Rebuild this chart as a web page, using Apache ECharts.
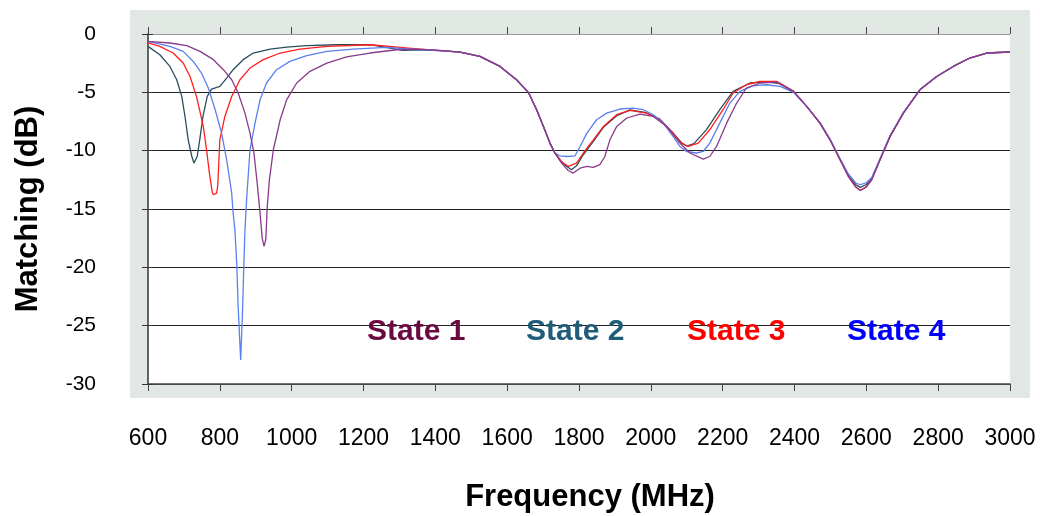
<!DOCTYPE html>
<html>
<head>
<meta charset="utf-8">
<script src="https://cdn.jsdelivr.net/npm/echarts@6/dist/echarts.min.js"></script>
<style>
html,body{margin:0;padding:0;background:#fff;}
#chart{width:1040px;height:516px;}
</style>
</head>
<body>
<div id="chart"></div>
<script>
// ---- data (frequency in MHz, matching in dB) ----
const seriesNames = ['State 1', 'State 2', 'State 3', 'State 4'];
const xTicks = [600, 800, 1000, 1200, 1400, 1600, 1800, 2000, 2200, 2400, 2600, 2800, 3000];
const yTicks = [0, -5, -10, -15, -20, -25, -30];

const state1Freq = [600,661,708,745,782,810,833,851,870,884,895,904,912,918,923,928,932,938,949,968,986,1014,1051,1098,1153,1218,1292,1350,1413,1469,1524,1580,1626,1659,1682,1701,1719,1733,1750,1770,1784,1803,1822,1840,1858,1872,1886,1905,1933,1970,2007,2044,2081,2109,2146,2164,2183,2211,2239,2266,2304,2350,2397,2434,2471,2499,2527,2550,2570,2583,2600,2615,2638,2666,2703,2749,2796,2842,2888,2935,3000];
const state1Db   = [-0.63,-0.77,-1.0,-1.49,-2.2,-3.06,-3.92,-5.06,-6.78,-8.49,-10.2,-12.78,-15.35,-17.5,-18.2,-17.6,-14.8,-12.5,-9.92,-7.35,-5.64,-4.2,-3.2,-2.49,-1.97,-1.63,-1.35,-1.3,-1.4,-1.55,-1.92,-2.78,-3.92,-5.0,-6.49,-7.92,-9.35,-10.2,-11.0,-11.7,-11.92,-11.5,-11.35,-11.44,-11.2,-10.5,-9.07,-7.92,-7.2,-6.86,-7.07,-7.92,-9.35,-10.2,-10.72,-10.5,-9.64,-7.64,-5.92,-4.63,-4.2,-4.12,-4.92,-6.2,-7.64,-9.07,-10.78,-12.21,-13.1,-13.41,-13.1,-12.5,-10.78,-8.78,-6.78,-4.78,-3.64,-2.78,-2.06,-1.63,-1.55];

const state2Freq = [600,633,661,680,694,703,712,722,728,737,744,753,765,777,800,819,837,865,893,940,986,1042,1125,1218,1310,1350,1413,1469,1524,1580,1626,1659,1682,1701,1719,1733,1755,1779,1793,1812,1840,1868,1905,1942,1988,2025,2062,2085,2100,2120,2155,2192,2229,2276,2320,2360,2397,2434,2471,2499,2527,2550,2570,2583,2600,2615,2638,2666,2703,2749,2796,2842,2888,2935,3000];
const state2Db   = [-1.06,-1.78,-2.78,-3.92,-5.35,-7.07,-9.07,-10.5,-11.06,-10.5,-9.07,-7.07,-5.35,-4.72,-4.49,-3.78,-3.06,-2.2,-1.63,-1.29,-1.12,-1.0,-0.92,-0.92,-1.4,-1.35,-1.43,-1.55,-1.92,-2.78,-3.92,-5.0,-6.49,-7.92,-9.35,-10.2,-11.1,-11.64,-11.3,-10.35,-9.2,-8.0,-7.0,-6.5,-6.75,-7.3,-8.5,-9.3,-9.6,-9.4,-8.2,-6.49,-4.92,-4.2,-4.1,-4.25,-4.92,-6.2,-7.64,-9.07,-10.78,-12.1,-12.9,-13.15,-12.9,-12.4,-10.78,-8.78,-6.78,-4.78,-3.64,-2.78,-2.06,-1.63,-1.52];

const state3Freq = [600,633,670,698,717,735,754,763,771,779,782,791,794,800,814,833,856,884,921,968,1023,1098,1218,1357,1413,1469,1524,1580,1626,1659,1682,1701,1719,1733,1750,1770,1793,1812,1840,1868,1905,1942,1988,2025,2062,2085,2104,2132,2164,2201,2229,2266,2304,2350,2397,2434,2471,2499,2527,2550,2570,2583,2600,2615,2638,2666,2703,2749,2796,2842,2888,2935,3000];
const state3Db   = [-0.77,-1.06,-1.63,-2.49,-3.64,-5.35,-7.92,-9.92,-11.92,-13.58,-13.78,-13.64,-13.07,-9.07,-7.07,-5.35,-3.92,-2.92,-2.2,-1.63,-1.29,-1.06,-0.92,-1.29,-1.43,-1.55,-1.92,-2.78,-3.92,-5.0,-6.49,-7.92,-9.35,-10.2,-10.9,-11.35,-11.06,-10.2,-9.07,-7.92,-6.92,-6.55,-6.78,-7.35,-8.49,-9.35,-9.64,-9.35,-8.21,-6.49,-5.06,-4.35,-4.06,-4.06,-4.9,-6.2,-7.64,-9.07,-10.78,-12.21,-13.1,-13.41,-13.1,-12.5,-10.78,-8.78,-6.78,-4.78,-3.64,-2.78,-2.06,-1.63,-1.55];

const state4Freq = [600,661,698,726,749,768,787,805,819,833,837,842,847,851,858,863,867,870,875,877,884,898,912,930,958,995,1042,1098,1171,1264,1357,1413,1469,1524,1580,1626,1659,1682,1701,1719,1733,1747,1766,1789,1803,1822,1849,1877,1914,1951,1979,2007,2034,2062,2081,2100,2127,2146,2164,2192,2220,2248,2285,2322,2360,2397,2434,2471,2499,2527,2550,2570,2583,2600,2615,2638,2666,2703,2749,2796,2842,2888,2935,3000];
const state4Db   = [-0.63,-1.06,-1.49,-2.35,-3.35,-4.63,-6.49,-8.49,-10.78,-13.64,-15.35,-16.78,-19.64,-23.36,-27.93,-23.93,-19.64,-16.78,-13.93,-13.07,-9.92,-7.64,-5.64,-4.2,-3.06,-2.35,-1.86,-1.49,-1.29,-1.15,-1.35,-1.43,-1.55,-1.92,-2.78,-3.92,-5.0,-6.49,-7.92,-9.35,-10.2,-10.44,-10.5,-10.44,-9.64,-8.5,-7.35,-6.78,-6.43,-6.35,-6.49,-6.92,-7.64,-8.78,-9.64,-10.07,-10.2,-10.07,-9.35,-7.64,-5.92,-4.92,-4.43,-4.35,-4.49,-5.0,-6.2,-7.6,-9.0,-10.7,-12.0,-12.75,-12.92,-12.75,-12.3,-10.7,-8.7,-6.75,-4.78,-3.64,-2.78,-2.06,-1.63,-1.55];

// ---- styling ----
const lineColors  = ['#8a3a8c', '#2c4d5c', '#ff1f1f', '#5a80ee'];
const labelColors = ['#6b0a3e', '#1f5c78', '#ff0000', '#0000ff'];
const labelX = [367, 526, 687, 847];

const freqs = [state1Freq, state2Freq, state3Freq, state4Freq];
const dbs = [state1Db, state2Db, state3Db, state4Db];
const zip = (a, b) => a.map((v, i) => [v, b[i]]);

const drawOrder = [1, 2, 3, 0];
const series = drawOrder.map(i => ({
  name: seriesNames[i],
  type: 'line',
  data: zip(freqs[i], dbs[i]),
  showSymbol: false,
  symbol: 'none',
  smooth: false,
  lineStyle: { color: lineColors[i], width: 1.3 },
  itemStyle: { color: lineColors[i] },
  silent: true
}));

const chart = echarts.init(document.getElementById('chart'), null, { renderer: 'canvas' });
const FONT = 'Arial, "Liberation Sans", Helvetica, sans-serif';

chart.setOption({
  animation: false,
  backgroundColor: '#ffffff',
  textStyle: { fontFamily: FONT },
  graphic: [
    { type: 'rect', z: -10, silent: true, shape: { x: 130, y: 10, width: 900, height: 388 }, style: { fill: '#e1e7e3' } }
  ].concat(seriesNames.map((n, i) => ({
    type: 'text', left: labelX[i], top: 317, z: 10, silent: true,
    style: { text: n, fill: labelColors[i], font: 'bold 30px ' + FONT }
  }))),
  grid: { left: 148, right: 30, top: 34, bottom: 132, show: true, backgroundColor: '#ffffff', borderWidth: 0, outerBoundsMode: 'none', containLabel: false },
  xAxis: [{
    type: 'value', min: 600, max: 3000, interval: 200,
    name: 'Frequency (MHz)', nameLocation: 'middle', nameGap: 98,
    nameTextStyle: { fontSize: 31, fontWeight: 'bold', color: '#000', fontFamily: FONT, padding: [0, 0, 0, 22] },
    axisLine: { show: true, onZero: false, lineStyle: { color: '#444', width: 1.5 } },
    axisTick: { show: true, inside: false, length: 7, lineStyle: { color: '#444', width: 1 } },
    axisLabel: { fontSize: 23, color: '#000', margin: 43, fontFamily: FONT, formatter: v => xTicks.includes(v) ? String(v) : '' },
    splitLine: { show: false }
  }, {
    type: 'value', min: 600, max: 3000, interval: 200, position: 'bottom', gridIndex: 0,
    axisLine: { show: false }, axisLabel: { show: false }, splitLine: { show: false },
    axisTick: { show: true, inside: true, length: 7, lineStyle: { color: '#444', width: 1 } }
  }],
  yAxis: [{
    type: 'value', min: -30, max: 0, interval: 5,
    name: 'Matching (dB)', nameLocation: 'middle', nameGap: 104, nameRotate: 90,
    nameTextStyle: { fontSize: 31, fontWeight: 'bold', color: '#000', fontFamily: FONT },
    axisLine: { show: true, onZero: false, lineStyle: { color: '#333', width: 1.5 } },
    axisTick: { show: true, inside: false, length: 6, lineStyle: { color: '#333', width: 1 } },
    axisLabel: { fontSize: 21, color: '#000', margin: 52, fontFamily: FONT, formatter: v => yTicks.includes(v) ? String(v) : '' },
    splitLine: { show: true, lineStyle: { color: ['#555', '#222', '#222', '#222', '#222', '#222', '#999'], width: 1.2 } }
  }, {
    type: 'value', min: -30, max: 0, interval: 5, position: 'left', gridIndex: 0,
    axisLine: { show: false }, axisLabel: { show: false }, splitLine: { show: false },
    axisTick: { show: true, inside: true, length: 5, lineStyle: { color: '#333', width: 1 } }
  }],
  series: series
});
</script>
</body>
</html>
